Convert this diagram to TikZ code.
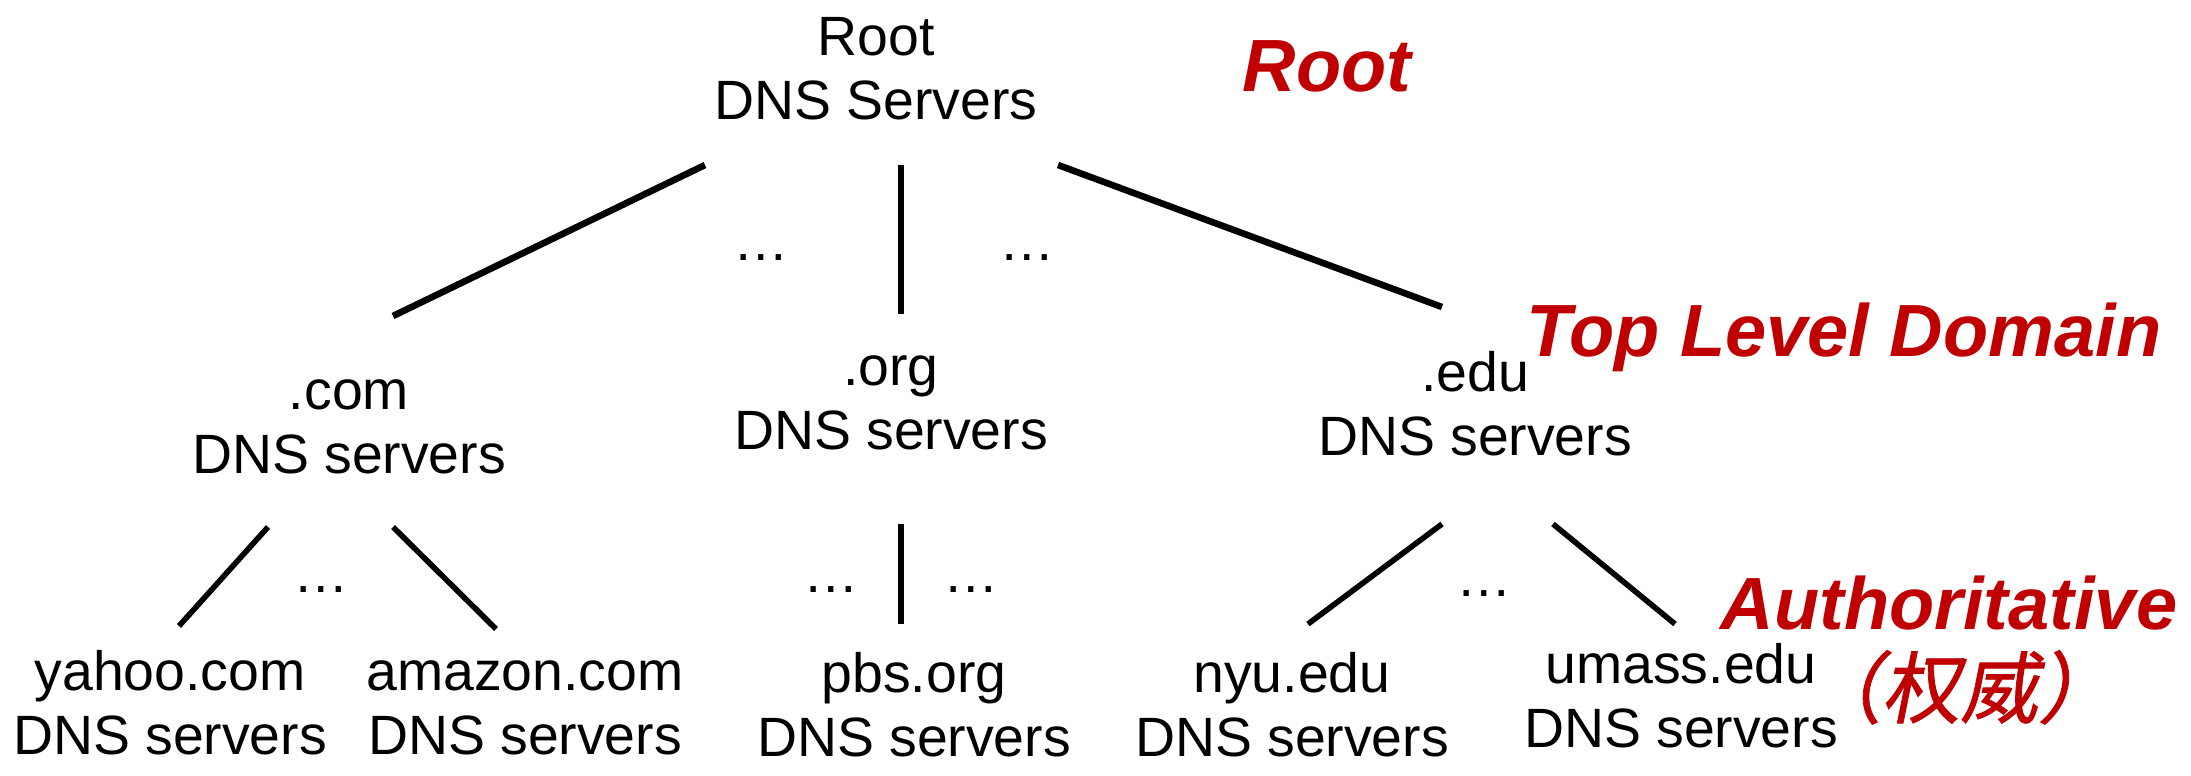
\documentclass[tikz,border=0pt]{standalone}
\usepackage{fontspec}
\setmainfont{Liberation Sans}
\newfontfamily\cjk[FakeSlant=0.2,FakeBold=1]{Noto Sans CJK SC}
\definecolor{lab}{RGB}{192,0,0}
\begin{document}
\begin{tikzpicture}[x=0.5pt,y=-0.5pt,
  srv/.style={align=center,inner sep=0pt,font=\fontsize{27.7}{32}\selectfont},
  lvl/.style={inner sep=0pt,anchor=base,text=lab,font=\fontsize{37}{42}\selectfont\bfseries\itshape},
  dots/.style={inner sep=0pt,font=\fontsize{27.7}{32}\selectfont},
  link/.style={line width=3.3pt},
  sublink/.style={line width=2.8pt}]
\useasboundingbox (0,0) rectangle (2191,776);
% server nodes
\node[srv] (root) at (876,75) {\strut Root\\DNS Servers\strut};
\node[srv] (com) at (349,429) {\strut .com\\DNS servers\strut};
\node[srv] (org) at (891,405) {\strut .org\\DNS servers\strut};
\node[srv] (edu) at (1475,411) {\strut .edu\\DNS servers\strut};
\node[srv] (yahoo) at (170,710) {\strut yahoo.com\\DNS servers\strut};
\node[srv] (amazon) at (525,710) {\strut amazon.com\\DNS servers\strut};
\node[srv] (pbs) at (914,712) {\strut pbs.org\\DNS servers\strut};
\node[srv] (nyu) at (1292,712) {\strut nyu.edu\\DNS servers\strut};
\node[srv] (umass) at (1681,703) {\strut umass.edu\\DNS servers\strut};
% level labels
\node[lvl] (lroot) at (1327,91) {Root};
\node[lvl] (ltld) at (1844,356) {Top Level Domain};
\node[lvl] (lauth) at (1949,629) {Authoritative};
\node[inner sep=0pt,anchor=base,text=lab,font=\fontsize{39}{44}\cjk] (lcn) at (1960,717) {（权威）};
% dots
\node[dots] (d1) at (761,258) {…};
\node[dots] (d2) at (1027,258) {…};
\node[dots] (d3) at (321,590) {…};
\node[dots] (d4) at (831,590) {…};
\node[dots] (d5) at (971,590) {…};
\node[dots] (d6) at (1484,594) {…};
% connector end points
\coordinate (rc1) at (705,165); \coordinate (rc2) at (393,316);
\coordinate (ro1) at (901,165); \coordinate (ro2) at (901,314);
\coordinate (re1) at (1058,165); \coordinate (re2) at (1442,307);
\coordinate (cy1) at (268,527); \coordinate (cy2) at (179,626);
\coordinate (ca1) at (393,527); \coordinate (ca2) at (496,629);
\coordinate (op1) at (901,524); \coordinate (op2) at (901,624);
\coordinate (en1) at (1442,524); \coordinate (en2) at (1308,624);
\coordinate (eu1) at (1553,524); \coordinate (eu2) at (1675,624);
\draw[link] (rc1) -- (rc2);
\draw[link] (ro1) -- (ro2);
\draw[link] (re1) -- (re2);
\draw[sublink] (cy1) -- (cy2);
\draw[sublink] (ca1) -- (ca2);
\draw[sublink] (op1) -- (op2);
\draw[sublink] (en1) -- (en2);
\draw[sublink] (eu1) -- (eu2);
\end{tikzpicture}
\end{document}
